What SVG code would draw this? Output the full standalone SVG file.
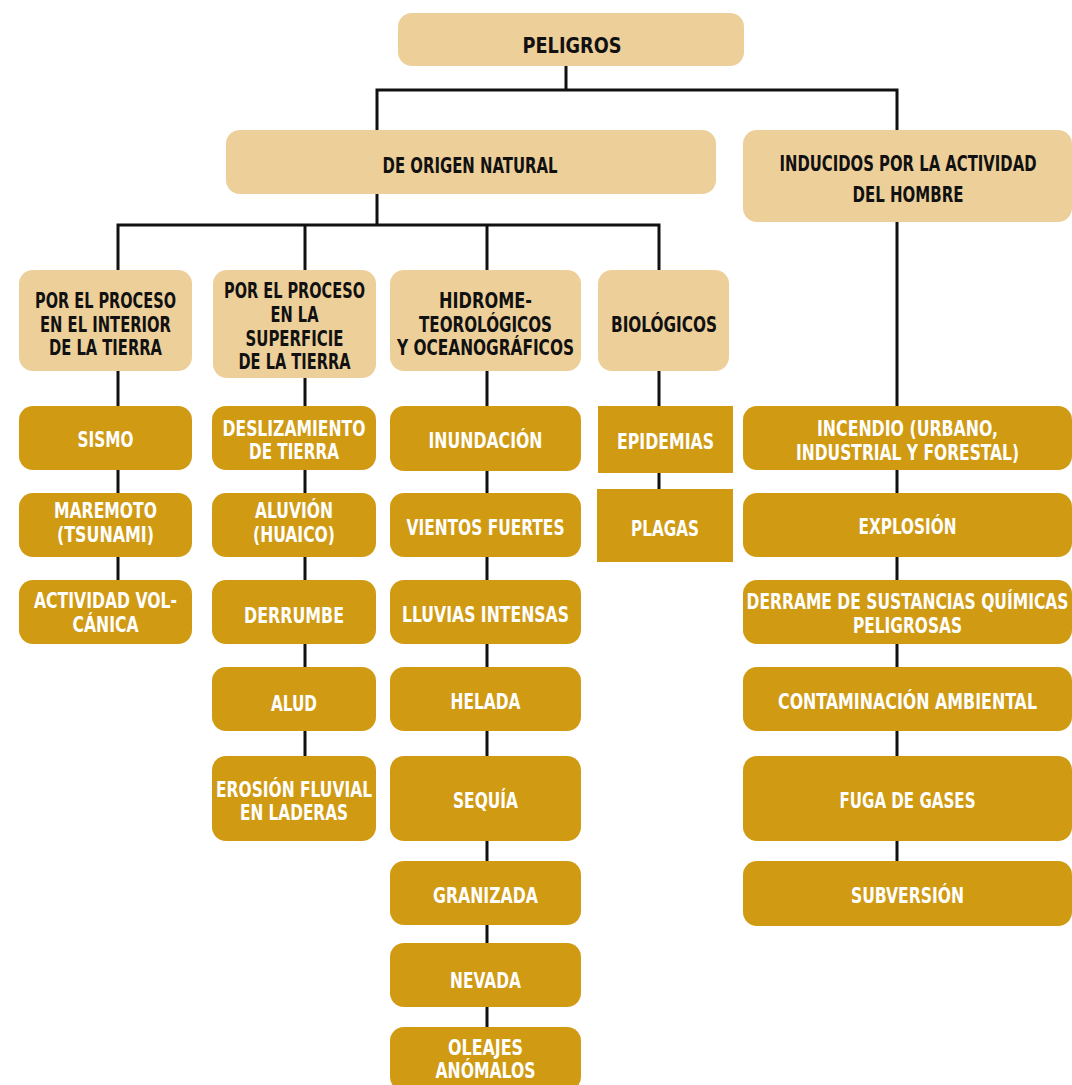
<svg xmlns="http://www.w3.org/2000/svg" width="1072" height="1085" viewBox="0 0 1072 1085">
<style>
.lt{fill:#EDCF9A}
.gd{fill:#D09A13}
.t{font-family:"Liberation Sans Narrow","DejaVu Sans Condensed","Roboto Condensed","Liberation Sans",sans-serif;font-weight:700;font-size:22px;font-stretch:condensed;text-anchor:middle}
.k{fill:#111}
.w{fill:#fff}
#connectors path{stroke:#111;stroke-width:3;fill:none}
</style>
<rect width="1072" height="1085" fill="#fff"/>
<g id="connectors">
<path d="M566,66 V90"/>
<path d="M377,130 V90 H897 V130"/>
<path d="M377,194 V225"/>
<path d="M118,270 V225 H659 V270"/>
<path d="M305,225 V270"/>
<path d="M487,225 V270"/>
<path d="M118,371 V580"/>
<path d="M305,378 V756"/>
<path d="M487,371 V1027"/>
<path d="M659,371 V489"/>
<path d="M897,222 V861"/>
</g>
<g id="n-peligros"><rect class="lt" x="398" y="13" width="346" height="53" rx="14"/><text class="t k" x="572" y="53" font-size="27" textLength="99" lengthAdjust="spacingAndGlyphs">PELIGROS</text></g>
<g id="n-natural"><rect class="lt" x="226" y="130" width="490" height="64" rx="14"/><text class="t k" x="470" y="173" textLength="175" lengthAdjust="spacingAndGlyphs">DE ORIGEN NATURAL</text></g>
<g id="n-inducidos"><rect class="lt" x="743" y="130" width="329" height="92" rx="14"/><text class="t k" x="908" y="171" textLength="257" lengthAdjust="spacingAndGlyphs">INDUCIDOS POR LA ACTIVIDAD</text><text class="t k" x="908" y="202" textLength="111" lengthAdjust="spacingAndGlyphs">DEL HOMBRE</text></g>
<g id="n-interior"><rect class="lt" x="19" y="270" width="173" height="101" rx="14"/><text class="t k" x="105.5" y="308" textLength="141" lengthAdjust="spacingAndGlyphs">POR EL PROCESO</text><text class="t k" x="105.5" y="332" textLength="131" lengthAdjust="spacingAndGlyphs">EN EL INTERIOR</text><text class="t k" x="105.5" y="355" textLength="113" lengthAdjust="spacingAndGlyphs">DE LA TIERRA</text></g>
<g id="n-superficie"><rect class="lt" x="213" y="270" width="163" height="108" rx="14"/><text class="t k" x="294.5" y="298" textLength="141" lengthAdjust="spacingAndGlyphs">POR EL PROCESO</text><text class="t k" x="294.5" y="322" textLength="48" lengthAdjust="spacingAndGlyphs">EN LA</text><text class="t k" x="294.5" y="346" textLength="98" lengthAdjust="spacingAndGlyphs">SUPERFICIE</text><text class="t k" x="294.5" y="369" textLength="112" lengthAdjust="spacingAndGlyphs">DE LA TIERRA</text></g>
<g id="n-hidro"><rect class="lt" x="390" y="270" width="191" height="101" rx="14"/><text class="t k" x="485.5" y="308" textLength="93" lengthAdjust="spacingAndGlyphs">HIDROME-</text><text class="t k" x="485.5" y="332" textLength="133" lengthAdjust="spacingAndGlyphs">TEOROLÓGICOS</text><text class="t k" x="485.5" y="355" textLength="177" lengthAdjust="spacingAndGlyphs">Y OCEANOGRÁFICOS</text></g>
<g id="n-biologicos"><rect class="lt" x="598" y="270" width="131" height="101" rx="14"/><text class="t k" x="664" y="332" textLength="106" lengthAdjust="spacingAndGlyphs">BIOLÓGICOS</text></g>
<g id="n-sismo"><rect class="gd" x="19" y="406" width="173" height="64" rx="14"/><text class="t w" x="105.5" y="447" textLength="56" lengthAdjust="spacingAndGlyphs">SISMO</text></g>
<g id="n-maremoto"><rect class="gd" x="19" y="493" width="173" height="64" rx="14"/><text class="t w" x="105.5" y="518" textLength="103" lengthAdjust="spacingAndGlyphs">MAREMOTO</text><text class="t w" x="105.5" y="542" textLength="97" lengthAdjust="spacingAndGlyphs">(TSUNAMI)</text></g>
<g id="n-volcanica"><rect class="gd" x="19" y="580" width="173" height="64" rx="14"/><text class="t w" x="105.5" y="608" textLength="143" lengthAdjust="spacingAndGlyphs">ACTIVIDAD VOL-</text><text class="t w" x="105.5" y="632" textLength="66" lengthAdjust="spacingAndGlyphs">CÁNICA</text></g>
<g id="n-deslizamiento"><rect class="gd" x="212" y="406" width="164" height="64" rx="14"/><text class="t w" x="294" y="436" textLength="143" lengthAdjust="spacingAndGlyphs">DESLIZAMIENTO</text><text class="t w" x="294" y="459" textLength="90" lengthAdjust="spacingAndGlyphs">DE TIERRA</text></g>
<g id="n-aluvion"><rect class="gd" x="212" y="493" width="164" height="64" rx="14"/><text class="t w" x="294" y="518" textLength="78" lengthAdjust="spacingAndGlyphs">ALUVIÓN</text><text class="t w" x="294" y="542" textLength="82" lengthAdjust="spacingAndGlyphs">(HUAICO)</text></g>
<g id="n-derrumbe"><rect class="gd" x="212" y="580" width="164" height="64" rx="14"/><text class="t w" x="294" y="623" textLength="100" lengthAdjust="spacingAndGlyphs">DERRUMBE</text></g>
<g id="n-alud"><rect class="gd" x="212" y="667" width="164" height="64" rx="14"/><text class="t w" x="294" y="711" textLength="46" lengthAdjust="spacingAndGlyphs">ALUD</text></g>
<g id="n-erosion"><rect class="gd" x="212" y="756" width="164" height="85" rx="14"/><text class="t w" x="294" y="797" textLength="156" lengthAdjust="spacingAndGlyphs">EROSIÓN FLUVIAL</text><text class="t w" x="294" y="820" textLength="108" lengthAdjust="spacingAndGlyphs">EN LADERAS</text></g>
<g id="n-inundacion"><rect class="gd" x="390" y="406" width="191" height="65" rx="14"/><text class="t w" x="485.5" y="448" textLength="114" lengthAdjust="spacingAndGlyphs">INUNDACIÓN</text></g>
<g id="n-vientos"><rect class="gd" x="390" y="493" width="191" height="64" rx="14"/><text class="t w" x="485.5" y="535" textLength="158" lengthAdjust="spacingAndGlyphs">VIENTOS FUERTES</text></g>
<g id="n-lluvias"><rect class="gd" x="390" y="580" width="191" height="64" rx="14"/><text class="t w" x="485.5" y="622" textLength="167" lengthAdjust="spacingAndGlyphs">LLUVIAS INTENSAS</text></g>
<g id="n-helada"><rect class="gd" x="390" y="667" width="191" height="64" rx="14"/><text class="t w" x="485.5" y="709" textLength="70" lengthAdjust="spacingAndGlyphs">HELADA</text></g>
<g id="n-sequia"><rect class="gd" x="390" y="756" width="191" height="85" rx="14"/><text class="t w" x="485.5" y="808" textLength="65" lengthAdjust="spacingAndGlyphs">SEQUÍA</text></g>
<g id="n-granizada"><rect class="gd" x="390" y="861" width="191" height="64" rx="14"/><text class="t w" x="485.5" y="903" textLength="105" lengthAdjust="spacingAndGlyphs">GRANIZADA</text></g>
<g id="n-nevada"><rect class="gd" x="390" y="943" width="191" height="64" rx="14"/><text class="t w" x="485.5" y="988" textLength="71" lengthAdjust="spacingAndGlyphs">NEVADA</text></g>
<g id="n-oleajes"><rect class="gd" x="390" y="1027" width="191" height="64" rx="14"/><text class="t w" x="485.5" y="1055" textLength="75" lengthAdjust="spacingAndGlyphs">OLEAJES</text><text class="t w" x="485.5" y="1078" textLength="100" lengthAdjust="spacingAndGlyphs">ANÓMALOS</text></g>
<g id="n-epidemias"><rect class="gd" x="598" y="406" width="135" height="67"/><text class="t w" x="665.5" y="449" textLength="97" lengthAdjust="spacingAndGlyphs">EPIDEMIAS</text></g>
<g id="n-plagas"><rect class="gd" x="597" y="489" width="136" height="73"/><text class="t w" x="665" y="536" textLength="68" lengthAdjust="spacingAndGlyphs">PLAGAS</text></g>
<g id="n-incendio"><rect class="gd" x="743" y="406" width="329" height="64" rx="14"/><text class="t w" x="907.5" y="436" textLength="181" lengthAdjust="spacingAndGlyphs">INCENDIO (URBANO,</text><text class="t w" x="907.5" y="460" textLength="223" lengthAdjust="spacingAndGlyphs">INDUSTRIAL Y FORESTAL)</text></g>
<g id="n-explosion"><rect class="gd" x="743" y="493" width="329" height="64" rx="14"/><text class="t w" x="907.5" y="534" textLength="98" lengthAdjust="spacingAndGlyphs">EXPLOSIÓN</text></g>
<g id="n-derrame"><rect class="gd" x="743" y="580" width="329" height="64" rx="14"/><text class="t w" x="907.5" y="609" textLength="322" lengthAdjust="spacingAndGlyphs">DERRAME DE SUSTANCIAS QUÍMICAS</text><text class="t w" x="907.5" y="633" textLength="109" lengthAdjust="spacingAndGlyphs">PELIGROSAS</text></g>
<g id="n-contaminacion"><rect class="gd" x="743" y="667" width="329" height="64" rx="14"/><text class="t w" x="907.5" y="709" textLength="259" lengthAdjust="spacingAndGlyphs">CONTAMINACIÓN AMBIENTAL</text></g>
<g id="n-fuga"><rect class="gd" x="743" y="756" width="329" height="85" rx="14"/><text class="t w" x="907.5" y="808" textLength="136" lengthAdjust="spacingAndGlyphs">FUGA DE GASES</text></g>
<g id="n-subversion"><rect class="gd" x="743" y="861" width="329" height="65" rx="14"/><text class="t w" x="907.5" y="903" textLength="113" lengthAdjust="spacingAndGlyphs">SUBVERSIÓN</text></g>
</svg>
